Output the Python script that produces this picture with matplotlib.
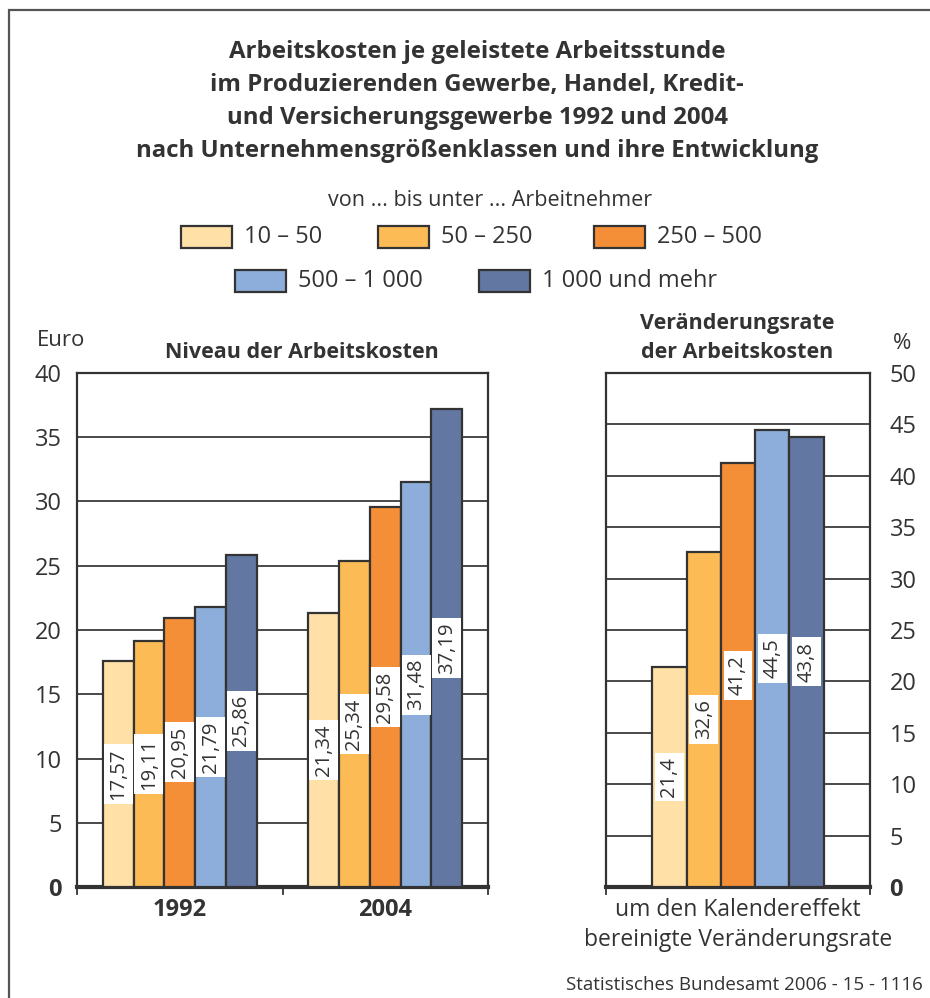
import matplotlib
matplotlib.use("Agg")
import matplotlib.pyplot as plt
import numpy as np
from matplotlib.patches import Rectangle

plt.rcParams['font.family'] = ['Open Sans', 'DejaVu Sans']

# Data
years = ["1992", "2004"]
size_classes = ["10 – 50", "50 – 250", "250 – 500", "500 – 1 000", "1 000 und mehr"]
cost_1992 = [17.57, 19.11, 20.95, 21.79, 25.86]
cost_2004 = [21.34, 25.34, 29.58, 31.48, 37.19]
change_rate = [21.4, 32.6, 41.2, 44.5, 43.8]
left_ticks = [0, 5, 10, 15, 20, 25, 30, 35, 40]
right_ticks = [0, 5, 10, 15, 20, 25, 30, 35, 40, 45, 50]

colors = ["#FFE0A7", "#FDBB55", "#F48F37", "#8DAEDA", "#6278A3"]
edge = "#333333"
txt = "#333333"
grid = "#3a3a3a"

W, H = 930, 998
fig = plt.figure(figsize=(W / 100, H / 100), dpi=100)
fig.patch.set_facecolor("white")


def fx(px):
    return px / W


def fy(py):
    return 1 - py / H


# Outer frame
fig.add_artist(Rectangle((fx(9), fy(1010)), fx(960), fy(10) - fy(1010),
                         transform=fig.transFigure, fill=False,
                         edgecolor="#555555", linewidth=1.6))

# Title
title_lines = ["Arbeitskosten je geleistete Arbeitsstunde",
               "im Produzierenden Gewerbe, Handel, Kredit-",
               "und Versicherungsgewerbe 1992 und 2004",
               "nach Unternehmensgrößenklassen und ihre Entwicklung"]
for i, line in enumerate(title_lines):
    fig.text(fx(477), fy(52 + i * 33), line, ha="center", va="center",
             fontsize=17.3, fontweight="bold", color=txt)

# Legend
fig.text(fx(490), fy(200), "von ... bis unter ... Arbeitnehmer", ha="center",
         va="center", fontsize=15.5, color=txt)
legend_pos = [(181, 237), (378, 237), (594, 237), (235, 281), (479, 281)]
for (x, y), c, lab in zip(legend_pos, colors, size_classes):
    fig.add_artist(Rectangle((fx(x), fy(y + 11)), fx(51), fy(y - 11) - fy(y + 11),
                             transform=fig.transFigure, facecolor=c,
                             edgecolor=edge, linewidth=1.6))
    fig.text(fx(x + 63), fy(y), lab, ha="left", va="center", fontsize=17,
             color=txt)

# Left panel: level of labour costs
axL = fig.add_axes([fx(77), fy(887), fx(411), fy(373) - fy(887)])
axR = fig.add_axes([fx(606), fy(887), fx(264), fy(373) - fy(887)])

bw = 0.15
xs = np.arange(len(years))
series = np.array([cost_1992, cost_2004])
for k in range(len(size_classes)):
    pos = xs + (k - 2) * bw
    vals = series[:, k]
    axL.bar(pos, vals, width=bw, color=colors[k], edgecolor=edge,
            linewidth=1.6, zorder=3)
    for p, v in zip(pos, vals):
        axL.text(p, v / 2, f"{v:.2f}".replace(".", ","), rotation=90,
                 ha="center", va="center", fontsize=14.5, color=txt, zorder=4,
                 bbox=dict(boxstyle="square,pad=0.22", facecolor="white",
                           edgecolor="none"))

axL.set_xlim(-0.5, 1.5)
axL.set_ylim(0, 40)
axL.set_yticks(left_ticks)
axL.set_xticks(xs)
axL.set_xticklabels(years, fontsize=17, fontweight="bold", color=txt)
axL.yaxis.grid(True, color=grid, linewidth=1.3, zorder=0)
axL.set_axisbelow(True)
axL.tick_params(axis="y", length=0, pad=11, labelsize=17, labelcolor=txt)
axL.tick_params(axis="x", length=0, pad=8)
for xb in [-0.5, 0.5, 1.5]:
    axL.plot([xb, xb], [0, -0.55], color=edge, lw=1.3, clip_on=False, zorder=5)
fig.text(fx(37), fy(341), "Euro", fontsize=16, color=txt, ha="left",
         va="center")
fig.text(fx(302), fy(353), "Niveau der Arbeitskosten", fontsize=15.5,
         fontweight="bold", color=txt, ha="center", va="center")

# Right panel: rate of change
bw2 = 0.13
for k, v in enumerate(change_rate):
    p = (k - 2) * bw2
    axR.bar(p, v, width=bw2, color=colors[k], edgecolor=edge, linewidth=1.6,
            zorder=3)
    axR.text(p, v / 2, f"{v:.1f}".replace(".", ","), rotation=90, ha="center",
             va="center", fontsize=14.5, color=txt, zorder=4,
             bbox=dict(boxstyle="square,pad=0.22", facecolor="white",
                       edgecolor="none"))
axR.set_xlim(-0.5, 0.5)
axR.set_ylim(0, 50)
axR.set_yticks(right_ticks)
axR.yaxis.tick_right()
axR.set_xticks([])
axR.yaxis.grid(True, color=grid, linewidth=1.3, zorder=0)
axR.set_axisbelow(True)
axR.tick_params(axis="y", length=0, pad=14, labelsize=17, labelcolor=txt)
for xb in [-0.5, 0.5]:
    axR.plot([xb, xb], [0, -0.68], color=edge, lw=1.3, clip_on=False, zorder=5)
fig.text(fx(737), fy(324), "Veränderungsrate", fontsize=15.5,
         fontweight="bold", color=txt, ha="center", va="center")
fig.text(fx(737), fy(353), "der Arbeitskosten", fontsize=15.5,
         fontweight="bold", color=txt, ha="center", va="center")
fig.text(fx(902), fy(343), "%", ha="center", va="center", fontsize=16,
         color=txt)
fig.text(fx(738), fy(910), "um den Kalendereffekt", ha="center", va="center",
         fontsize=16.5, color=txt)
fig.text(fx(738), fy(940), "bereinigte Veränderungsrate", ha="center",
         va="center", fontsize=16.5, color=txt)

for ax in (axL, axR):
    for s in ax.spines.values():
        s.set_color(edge)
        s.set_linewidth(1.6)
    ax.spines["bottom"].set_linewidth(3)
    # zero label drawn bold like the baseline
    for lab in ax.get_yticklabels():
        if lab.get_text() == "0":
            lab.set_fontweight("bold")

fig.text(fx(566), fy(985), "Statistisches Bundesamt 2006 - 15 - 1116",
         ha="left", va="center", fontsize=13.5, color=txt)

fig.savefig("out.png", dpi=100)
